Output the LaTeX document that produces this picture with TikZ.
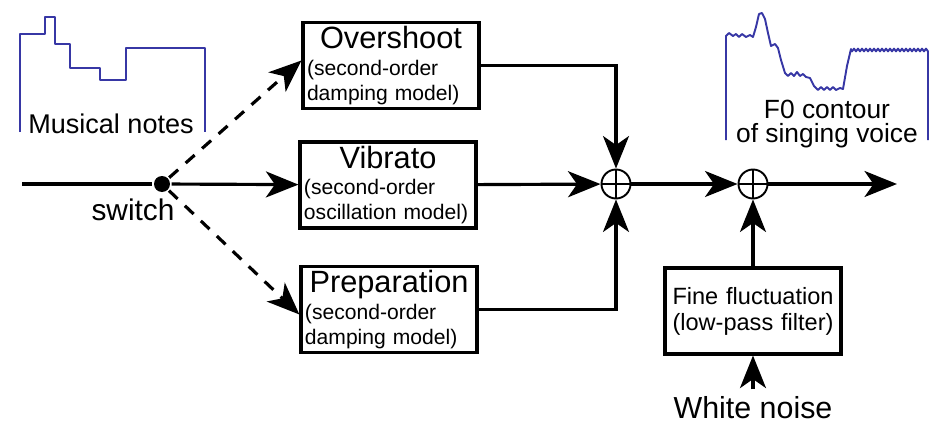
\documentclass[tikz,border=0pt]{standalone}
\usepackage{fontspec}
\setmainfont{Liberation Sans}
\usetikzlibrary{arrows.meta}
\definecolor{curveblue}{RGB}{55,55,165}

\begin{document}
\begin{tikzpicture}[x=0.2mm,y=-0.2mm,line width=1.8pt] % F0 MODEL
    \newcommand\blocktitle[1]{%
        \makebox[\linewidth][c]{\fontsize{17.5}{18}\selectfont #1}\\[0.8pt]%
    }

    \tikzset{%
        >={Stealth[length=6.5mm,width=5.2mm,inset=1.8mm]}, % big filled heads
        block/.style={draw,minimum width=35.2mm,minimum height=17.2mm,
                inner sep=0.8mm,text width=33.6mm,align=left,
                font=\fontsize{12}{14.2}\selectfont},%
        sumnode/.style={draw,circle,line width=1.1pt,minimum size=5.8mm,inner sep=0pt,
                path picture={\draw[line width=1.1pt]
                    (path picture bounding box.north) -- (path picture bounding box.south)
                    (path picture bounding box.west) -- (path picture bounding box.east);}},%
        switchdot/.style={circle,fill,minimum size=3.2mm,inner sep=0pt},%
        curve/.style={curveblue,line width=1.1pt,line join=round},%
        labeltext/.style={inner sep=0pt,anchor=base}%
    }

    \useasboundingbox (0,0) rectangle (930,422);

    %% blocks

    \node[block] (ovs) at (391,65.5) {\blocktitle{Overshoot}(second-order\\damping model)};
    \node[block] (vib) at (388,185) {\blocktitle{Vibrato}(second-order\\oscillation model)};
    \node[block] (prep) at (389,309.5) {\blocktitle{Preparation}(second-order\\damping model)};
    \node[block,align=center,font=\fontsize{13.4}{14.8}\selectfont] (fine) at (753,311)
        {Fine fluctuation\\(low-pass filter)};

    %% junctions

    \coordinate (in) at (22,184);
    \node[switchdot] (sw) at (162,184) {};
    \node[sumnode] (sum1) at (616,184) {};
    \node[sumnode] (sum2) at (753,184) {};
    \coordinate (out) at (897,184);

    %% texts

    \node[labeltext,font=\fontsize{17}{18}\selectfont] (swlab) at (133,220) {switch};
    \node[labeltext,font=\fontsize{17.3}{18}\selectfont] (noise) at (753,418) {White noise};
    \node[labeltext,font=\fontsize{15.4}{16}\selectfont] (notes) at (111,133) {Musical notes};
    \node[inner sep=0pt,anchor=north,align=center,font=\fontsize{15}{13.6}\selectfont]
        (f0) at (827,99) {F0 contour\\of singing voice};

    %% blue curves

    \draw[curve] (20,132) -- (20,34) -- (45,34) -- (45,17) -- (55,17) -- (55,44)
        -- (70,44) -- (70,68) -- (100,68) -- (100,80) -- (126,80) -- (126,48)
        -- (205,48) -- (205,132);
    \draw[curve] (726,140) -- (726,36) -- (729,33) -- (733,36) -- (736,34) -- (739,37)
        -- (742,34) -- (746,37) -- (750,35) -- (753,37) -- (756,27) -- (759,14)
        -- (762,13) -- (765,19) -- (768,33) -- (771,46) -- (775,44) -- (778,48)
        -- (781,60) -- (785,73) -- (788,76) -- (791,73) -- (794,76) -- (797,72)
        -- (800,76) -- (803,74) -- (806,77) -- (810,78) -- (814,86) -- (818,90)
        -- (821,87) -- (824,90) -- (827,87) -- (830,90) -- (833,87) -- (836,90)
        -- (840,88) -- (843,89) -- (847,66) -- (851,49)
        -- plot[domain=0:77,samples=78] ({851+\x},{50+1.4*sin(\x*90)}) -- (928,140);

    %% connectors

    \draw (in) -- (sw);
    \draw[->] (sw) -- (vib);
    \draw[->,dash pattern=on 2.4mm off 2mm] (sw) -- ([yshift=1mm]ovs.west);
    \draw[->,dash pattern=on 2.4mm off 2mm] (sw) -- ([yshift=-1mm]prep.west);
    \draw[->] (vib) -- (sum1);
    \draw[->] (ovs) -| (sum1);
    \draw[->] (prep) -| (sum1);
    \draw[->] (sum1) -- (sum2);
    \draw[->] (sum2) -- (out);
    \draw[->] (fine) -- (sum2);
    \draw[->] ([yshift=1mm]noise.north) -- (fine);
\end{tikzpicture}
\end{document}
